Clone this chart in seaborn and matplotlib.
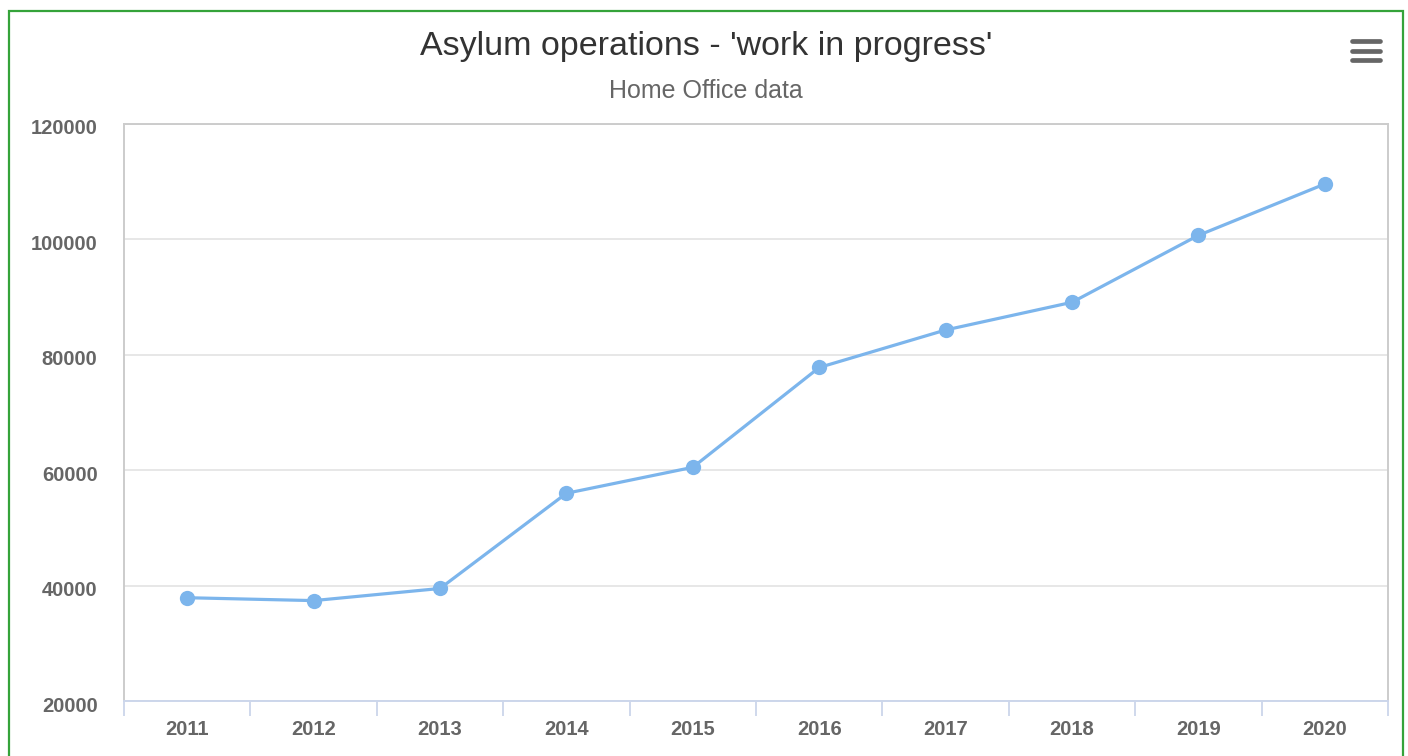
import matplotlib
matplotlib.use("Agg")
import matplotlib.pyplot as plt
import matplotlib.transforms as mtransforms
from matplotlib.lines import Line2D
from matplotlib.patches import Rectangle
from matplotlib.ticker import FixedLocator
import seaborn as sns
import pandas as pd

# Asylum casework "work in progress" by year (Home Office data)
years = [2011, 2012, 2013, 2014, 2015, 2016, 2017, 2018, 2019, 2020]
work_in_progress = [37900, 37400, 39500, 56000, 60500, 77800, 84300, 89100, 100700, 109600]
y_ticks = [20000, 40000, 60000, 80000, 100000, 120000]

title = "Asylum operations - 'work in progress'"
subtitle = "Home Office data"

sns.set_theme(style="white")
plt.rcParams["font.family"] = ["Liberation Sans", "DejaVu Sans"]

df = pd.DataFrame({"year": years, "value": work_in_progress})

fig = plt.figure(figsize=(14.08, 7.56), dpi=100)
ax = fig.add_axes([124 / 1408, 1 - 701 / 756, (1388 - 124) / 1408, (701 - 124) / 756])

sns.lineplot(data=df, x="year", y="value", ax=ax, color="#7cb5ec", linewidth=2.3,
             marker="o", markersize=11, markeredgewidth=0, zorder=3)

ax.set_xlim(years[0] - 0.5, years[-1] + 0.5)
ax.set_ylim(y_ticks[0], y_ticks[-1])
ax.set_xlabel("")
ax.set_ylabel("")

# Horizontal grid lines
ax.yaxis.set_major_locator(FixedLocator(y_ticks))
ax.grid(axis="y", color="#e3e3e3", linewidth=1.2)
ax.grid(axis="x", visible=False)
ax.set_axisbelow(True)

# Category labels centred, tick marks on the category boundaries
ax.xaxis.set_major_locator(FixedLocator(years))
ax.set_xticklabels([str(y) for y in years])
ax.xaxis.set_minor_locator(FixedLocator([y - 0.5 for y in years] + [years[-1] + 0.5]))
ax.tick_params(axis="x", which="major", length=0, pad=14, labelsize=14.5, labelcolor="#666666")
ax.tick_params(axis="x", which="minor", length=11, width=1.3, color="#ccd6eb", bottom=True)
ax.tick_params(axis="y", length=0, pad=19, labelsize=14.5, labelcolor="#666666")
shift_down = mtransforms.ScaledTranslation(0, -3 / 100, fig.dpi_scale_trans)
for lab in ax.get_xticklabels() + ax.get_yticklabels():
    lab.set_fontweight("bold")
for lab in ax.get_yticklabels():
    lab.set_transform(lab.get_transform() + shift_down)

# Plot border
for side in ["top", "left", "right"]:
    ax.spines[side].set_visible(True)
    ax.spines[side].set_color("#cccccc")
    ax.spines[side].set_linewidth(1.4)
ax.spines["bottom"].set_color("#ccd6eb")
ax.spines["bottom"].set_linewidth(1.4)
ax.spines["bottom"].set_zorder(4)

# Titles
fig.text(706 / 1408, 1 - 46 / 756, title, ha="center", va="center",
         fontsize=24.5, color="#333333")
fig.text(706 / 1408, 1 - 91 / 756, subtitle, ha="center", va="center",
         fontsize=18, color="#666666")

# Menu icon
for yy in (41, 50.5, 60):
    fig.add_artist(Line2D([1352 / 1408, 1380 / 1408], [1 - yy / 756, 1 - yy / 756],
                          color="#666666", linewidth=3.4, solid_capstyle="round"))

# Outer frame
fig.add_artist(Rectangle((9 / 1408, -0.05), (1403 - 9) / 1408, 1.05 - 11 / 756,
                         transform=fig.transFigure, fill=False,
                         edgecolor="#35a33a", linewidth=1.6, clip_on=False))

fig.savefig("out.png", dpi=100, facecolor="white")
